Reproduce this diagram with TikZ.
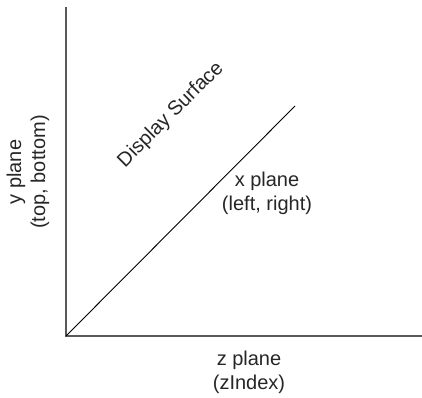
\documentclass[tikz,border=0pt]{standalone}
\usepackage{fontspec}
\setmainfont{Liberation Sans}
\usetikzlibrary{positioning}

\begin{document}
\begin{tikzpicture}[x=1pt,y=-1pt,
  axis/.style={draw=black!65,line width=1.3pt},
  surface/.style={draw=black,line width=0.9pt},
  lbl/.style={align=center,inner sep=0pt,text=black!85,
    font=\fontsize{20}{24}\selectfont}]
  \useasboundingbox (0,0) rectangle (422,397);
  \coordinate (o) at (66,336);
  \coordinate (ytop) at (66,7);
  \coordinate (zend) at (422,336);
  \coordinate (dend) at (295,106);
  \draw[axis] (ytop) -- (o) -- (zend);
  \draw[surface] (o) -- (dend);
  \node[lbl,rotate=45] (disp) at (171,115) {Display Surface};
  \node[lbl] (xpl) at (267,193) {x plane\\(left, right)};
  \node[lbl,rotate=90] (ypl) at (28,172) {y plane\\(top, bottom)};
  \node[lbl] (zpl) at (249,372) {z plane\\(zIndex)};
\end{tikzpicture}
\end{document}
